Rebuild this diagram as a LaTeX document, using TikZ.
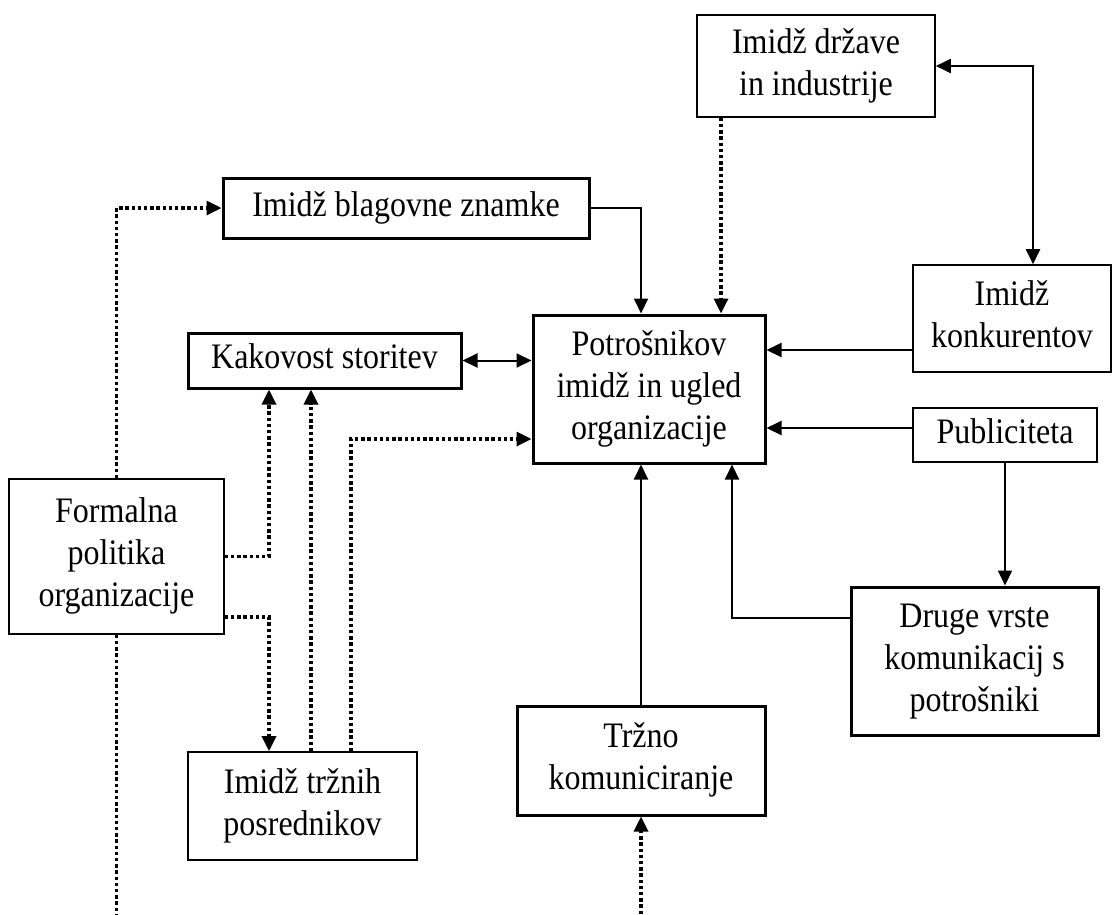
\documentclass[tikz,border=0pt]{standalone}
\usepackage{fontspec}
\usepackage{graphicx}
\setmainfont{Liberation Serif}
\usetikzlibrary{arrows.meta}

% box label: centred lines, set slightly taller than wide
\newcommand{\boxlabel}[1]{\scalebox{1}[1.12]{\fontsize{32}{37.5}\selectfont
  \begin{tabular}{@{}c@{}}#1\end{tabular}}}

\tikzset{
  box/.style={draw, line width=1.6pt, inner sep=0pt, align=center},
  boldbox/.style={box, line width=3pt},
  link/.style={draw, line width=2pt},
  dotline/.style={draw, line width=3.3pt, dash pattern=on 3.4pt off 2.8pt},
  tip/.style={-{Triangle[length=15pt,width=14pt]}},
  bothtips/.style={{Triangle[length=15pt,width=14pt]}-{Triangle[length=15pt,width=14pt]}}
}

\begin{document}
\begin{tikzpicture}[x=1pt, y=-1pt]
\useasboundingbox (0,0) rectangle (1113,914);

% boxes
\node[boldbox, minimum width=366pt, minimum height=60pt]  (blag)  at (406,208)    {\boxlabel{Imidž blagovne znamke}};
\node[boldbox, minimum width=273pt, minimum height=55pt]  (kak)   at (324.5,360.5){\boxlabel{Kakovost storitev}};
\node[boldbox, minimum width=232pt, minimum height=148pt] (pot)   at (649,389)    {\boxlabel{Potrošnikov\\imidž in ugled\\organizacije}};
\node[box,     minimum width=238pt, minimum height=102pt] (drz)   at (816,66)     {\boxlabel{Imidž države\\in industrije}};
\node[box,     minimum width=198pt, minimum height=107pt] (konk)  at (1012,318.5) {\boxlabel{Imidž\\konkurentov}};
\node[box,     minimum width=184pt, minimum height=54pt]  (pub)   at (1005,435)   {\boxlabel{Publiciteta}};
\node[box,     minimum width=215pt, minimum height=155pt] (form)  at (116.5,556.5){\boxlabel{Formalna\\politika\\organizacije}};
\node[boldbox, minimum width=247pt, minimum height=148pt] (druge) at (974.5,661)  {\boxlabel{Druge vrste\\komunikacij s\\potrošniki}};
\node[boldbox, minimum width=248pt, minimum height=109pt] (trzno) at (641,760.5)  {\boxlabel{Tržno\\komuniciranje}};
\node[box,     minimum width=229pt, minimum height=108pt] (posr)  at (302.5,806)  {\boxlabel{Imidž tržnih\\posrednikov}};

% attachment points
\coordinate (lowL) at (114,914);
\coordinate (lowM) at (641,914);
\coordinate (kw)  at ([yshift=-31.5pt]konk.west);
\coordinate (pw)  at ([yshift=7pt]pub.west);
\coordinate (dw)  at ([yshift=43pt]druge.west);
\coordinate (pb)  at ([xshift=83pt]pot.south);
\coordinate (pt1) at ([xshift=-8pt]pot.north);
\coordinate (pt2) at ([xshift=72pt]pot.north);
\coordinate (dzs) at ([xshift=-95pt]drz.south);
\coordinate (kn)  at ([xshift=21pt]konk.north);
\coordinate (kb1) at ([xshift=-55.5pt]kak.south);
\coordinate (fe2) at ([yshift=-60.5pt]form.east);
\coordinate (pn1) at ([xshift=-33.5pt]posr.north);
\coordinate (pn2) at ([xshift=8.5pt]posr.north);
\coordinate (pn3) at ([xshift=48.5pt]posr.north);
\coordinate (pl)  at ([yshift=-50pt]pot.west);

% solid connectors
\draw[link, tip] (blag.east) -| (pt1);
\draw[link, bothtips] (drz.east) -| (kn);
\draw[link, tip] (kw) -- (kw -| pot.east);
\draw[link, tip] (pw) -- (pw -| pot.east);
\draw[link, tip] (pub.south) -- (pub.south |- druge.north);
\draw[link, tip] (dw) -| (pb);
\draw[link, tip] (trzno.north) -- (trzno.north |- pot.south);
\draw[link, bothtips] (kak.east) -- (kak.east -| pot.west);

% dotted connectors
\draw[dotline, tip] (form.north) |- (blag.west);
\draw[dotline, tip] (dzs) -- (pt2);
\draw[dotline, tip] (form.east) -| (kb1);
\draw[dotline, tip] (fe2) -| (pn1);
\draw[dotline, tip] (pn2) -- (pn2 |- kak.south);
\draw[dotline, tip] (pn3) |- (pl);
\draw[dotline] (form.south) -- (form.south |- lowL);
\draw[dotline, tip] (lowM) -- (trzno.south);
\end{tikzpicture}
\end{document}
